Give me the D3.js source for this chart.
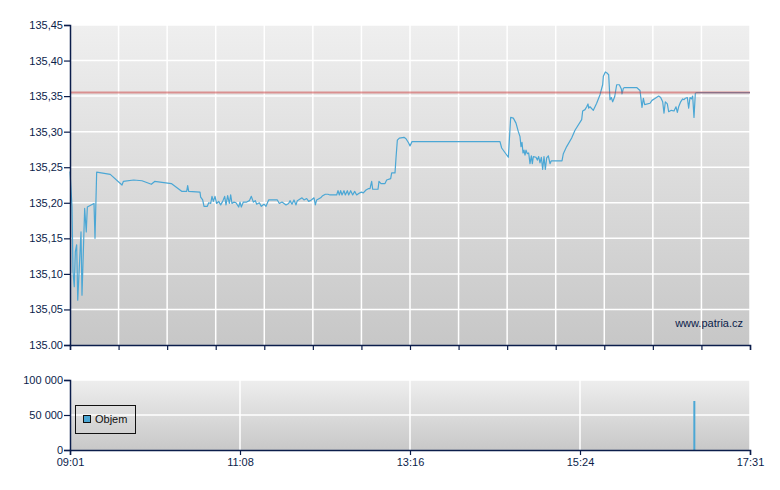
<!DOCTYPE html>
<html>
<head>
<meta charset="utf-8">
<script src="https://cdn.jsdelivr.net/npm/d3@7"></script>
<style>
  html, body { margin: 0; padding: 0; background: #ffffff; }
  svg { display: block; }
  text { font-family: "Liberation Sans", Arial, sans-serif; font-size: 11px; fill: #0b1d4b; }
</style>
</head>
<body>
<svg id="chart" width="780" height="490"></svg>
<script>
// ---- DATA (time = minutes since midnight) ----
const sessionStart = 541;   // 09:01
const sessionEnd = 1051;    // 17:31
const prevClose = 135.355;

const priceTime = [541,542.5,543.25,544.2,545,546,546.8,549.25,550,552,553.2,554,559,559.75,561,571.2,580,581,588.75,595,602,604.5,617,625,628.5,629.25,630,638.5,639,
  640.5,641.5,644,645,646.5,647.5,648.5,649.75,651,652.5,654,655.5,657,658,659.25,660.5,661.5,662.5,664,665.5,667.5,668.5,669.5,671,673.5,675.5,677,678.5,680,681,683,684.5,686.5,688,690,
  696.5,698,700,703,705,706,707.5,709,710.5,711.5,715,716.5,718.5,720,722,724,725,726,729,730.5,732.5,734.5,736,741,742,743,744,745,746.5,747.5,749,750,751.5,753,754.5,756,757.5,759.5,761,763,765,
  766,767.25,768,772,772.75,774.25,777.25,778.5,781.5,782.25,784.75,785.5,786.5,788,791.5,793,795,796,797.5,863.5,864.75,869.75,871.5,873.5,875.5,877.25,878.5,879.25,880,880.75,881.5,882.25,883,884,885,
  886,887,887.75,888.5,890.5,891.5,892.5,893.5,894.5,895.5,896.5,897.5,898.5,899.75,901,902,910,911,913.5,917.25,919.75,924.75,925.5,927.25,928.5,929.5,930,931,933.5,936,938.5,940.5,941,942.5,944,945,
  946,947,948,949.5,951,953,954.5,955,956,957,966,968.5,970,971,972,976,977.5,980,982.5,984,985.5,986.5,987.5,989,990,992,994,995.5,996.5,997.5,999,1000.5,1001.5,1002.5,1004,1005,1006,1007,1008,1009,1010,1011,1051];

const priceValue = [135.244,135.194,135.103,135.082,135.131,135.141,135.063,135.159,135.070,135.192,135.159,135.194,135.199,135.150,135.243,135.240,135.225,135.230,135.232,135.231,135.226,135.230,135.227,135.216,135.216,135.224,135.216,135.215,135.208,
  135.204,135.195,135.195,135.200,135.199,135.209,135.202,135.209,135.199,135.202,135.197,135.202,135.209,135.197,135.210,135.199,135.211,135.199,135.201,135.200,135.194,135.201,135.194,135.201,135.201,135.203,135.209,135.201,135.203,135.198,135.200,135.195,135.198,135.195,135.204,
  135.204,135.199,135.201,135.197,135.199,135.203,135.198,135.204,135.197,135.203,135.207,135.204,135.206,135.202,135.204,135.207,135.197,135.204,135.207,135.210,135.212,135.212,135.211,135.211,135.217,135.211,135.217,135.211,135.217,135.211,135.217,135.211,135.217,135.211,135.216,135.211,135.213,135.215,135.214,135.218,135.220,
  135.220,135.230,135.219,135.219,135.230,135.227,135.227,135.232,135.234,135.242,135.242,135.263,135.288,135.291,135.292,135.290,135.284,135.280,135.286,135.286,135.277,135.264,135.320,135.319,135.312,135.300,135.293,135.279,135.285,135.270,135.274,135.267,135.274,135.269,135.270,
  135.255,135.266,135.255,135.265,135.264,135.260,135.265,135.256,135.264,135.247,135.265,135.247,135.263,135.266,135.255,135.259,135.259,135.269,135.279,135.291,135.302,135.317,135.329,135.331,135.335,135.339,135.333,135.335,135.330,135.340,135.352,135.366,135.378,135.384,135.382,135.380,
  135.345,135.348,135.342,135.349,135.366,135.366,135.360,135.353,135.361,135.362,135.362,135.358,135.334,135.347,135.338,135.340,135.344,135.347,135.350,135.348,135.342,135.326,135.342,135.339,135.328,135.330,135.329,135.335,135.327,135.335,135.342,135.346,135.345,135.347,135.348,135.333,135.348,135.346,135.350,135.320,135.354,135.355,135.355];

const volumeTime = [1009.25];
const volumeValue = [70000];

const priceTicks = [135.00,135.05,135.10,135.15,135.20,135.25,135.30,135.35,135.40,135.45];
const priceTickLabels = ["135.00","135,05","135,10","135,15","135,20","135,25","135,30","135,35","135,40","135,45"];
const volumeTicks = [0,50000,100000];
const volumeTickLabels = ["0","50 000","100 000"];
const timeTickLabels = ["09:01","11:08","13:16","15:24","17:31"];
const legendLabel = "Objem";
const watermark = "www.patria.cz";

// ---- LAYOUT ----
const svg = d3.select("#chart");
const left = 70, right = 750;
const mainTop = 25, mainBottom = 345;
const volTop = 380, volBottom = 450;
const axisColor = "#0b1d4b";
const lineColor = "#4ba7d5";

const x = d3.scaleLinear().domain([sessionStart, sessionEnd]).range([left, right]);
const y = d3.scaleLinear().domain([135.00, 135.45]).range([mainBottom, mainTop]);
const yv = d3.scaleLinear().domain([0, 100000]).range([volBottom, volTop]);

const defs = svg.append("defs");
function grad(id, c1, c2) {
  const g = defs.append("linearGradient").attr("id", id).attr("x1", 0).attr("y1", 0).attr("x2", 0).attr("y2", 1);
  g.append("stop").attr("offset", "0%").attr("stop-color", c1);
  g.append("stop").attr("offset", "100%").attr("stop-color", c2);
}
grad("bgMain", "#efefef", "#c7c7c7");
grad("bgVol", "#eeeeee", "#c8c8c8");

// backgrounds
svg.append("rect").attr("x", left).attr("y", mainTop).attr("width", right - left).attr("height", mainBottom - mainTop).attr("fill", "url(#bgMain)");
svg.append("rect").attr("x", left).attr("y", volTop).attr("width", right - left).attr("height", volBottom - volTop).attr("fill", "url(#bgVol)");

// main grid
const mainTimeTicks = d3.range(15).map(i => sessionStart + i * (sessionEnd - sessionStart) / 14);
const gMainGrid = svg.append("g");
gMainGrid.selectAll("line.v").data(mainTimeTicks.slice(1)).join("line")
  .attr("x1", d => x(d)).attr("x2", d => x(d)).attr("y1", mainTop).attr("y2", mainBottom)
  .attr("stroke", "#ffffff").attr("stroke-width", 1.5);
gMainGrid.selectAll("line.h").data(priceTicks.slice(1)).join("line")
  .attr("x1", left).attr("x2", right).attr("y1", d => y(d)).attr("y2", d => y(d))
  .attr("stroke", "#ffffff").attr("stroke-width", 1.5);

// volume grid
const volTimeTicks = d3.range(5).map(i => sessionStart + i * (sessionEnd - sessionStart) / 4);
svg.append("g").selectAll("line").data(volTimeTicks.slice(1, 4)).join("line")
  .attr("x1", d => x(d)).attr("x2", d => x(d)).attr("y1", volTop).attr("y2", volBottom)
  .attr("stroke", "#ffffff").attr("stroke-width", 1.5);
svg.append("g").selectAll("line").data(volumeTicks.slice(1)).join("line")
  .attr("x1", left).attr("x2", right).attr("y1", d => yv(d)).attr("y2", d => yv(d))
  .attr("stroke", "#ffffff").attr("stroke-width", 1.5);
svg.append("line").attr("x1", right).attr("x2", right).attr("y1", volTop).attr("y2", volBottom).attr("stroke", "#ffffff").attr("stroke-width", 1.5);

// price line
const priceData = priceTime.map((t, i) => ({ t, v: priceValue[i] }));
const line = d3.line().x(d => x(d.t)).y(d => y(d.v));
svg.append("path").datum(priceData).attr("d", line)
  .attr("fill", "none").attr("stroke", lineColor).attr("stroke-width", 1.2).attr("stroke-linejoin", "round");

// previous close reference line (drawn over the price line, semi-transparent)
svg.append("line").attr("x1", left).attr("x2", right).attr("y1", y(prevClose)).attr("y2", y(prevClose))
  .attr("stroke", "#cc3a3a").attr("stroke-opacity", 0.5).attr("stroke-width", 2);

// volume bars
const volData = volumeTime.map((t, i) => ({ t, v: volumeValue[i] }));
svg.append("g").selectAll("rect").data(volData).join("rect")
  .attr("x", d => x(d.t) - 1).attr("width", 2)
  .attr("y", d => yv(d.v)).attr("height", d => yv(0) - yv(d.v))
  .attr("fill", lineColor);

// axes: main
const yAxis = d3.axisLeft(y).tickValues(priceTicks).tickSize(6).tickPadding(1)
  .tickFormat((d, i) => priceTickLabels[i]);
const gy = svg.append("g").attr("transform", `translate(${left},0)`).call(yAxis);
const xAxisMain = d3.axisBottom(x).tickValues(mainTimeTicks).tickSize(5).tickFormat("");
const gx = svg.append("g").attr("transform", `translate(0,${mainBottom})`).call(xAxisMain);

// axes: volume
const yvAxis = d3.axisLeft(yv).tickValues(volumeTicks).tickSize(6).tickPadding(1)
  .tickFormat((d, i) => volumeTickLabels[i]);
const gyv = svg.append("g").attr("transform", `translate(${left},0)`).call(yvAxis);
const xvAxis = d3.axisBottom(x).tickValues(volTimeTicks).tickSize(5).tickPadding(3)
  .tickFormat((d, i) => timeTickLabels[i]);
const gxv = svg.append("g").attr("transform", `translate(0,${volBottom})`).call(xvAxis);

[gy, gx, gyv, gxv].forEach(g => {
  g.select(".domain").attr("stroke", axisColor).attr("stroke-width", 1.5);
  g.selectAll(".tick line").attr("stroke", axisColor).attr("stroke-width", 1.2);
  g.selectAll(".tick text").attr("fill", axisColor)
    .style("font-family", '"Liberation Sans", Arial, sans-serif').style("font-size", "11px");
});

// legend
const lg = svg.append("g");
lg.append("rect").attr("x", 75.5).attr("y", 405.5).attr("width", 60).attr("height", 28)
  .attr("fill", "none").attr("stroke", "#111111").attr("stroke-width", 1);
lg.append("rect").attr("x", 83.5).attr("y", 415.5).attr("width", 7).attr("height", 7)
  .attr("fill", lineColor).attr("stroke", "#111111").attr("stroke-width", 1);
lg.append("text").attr("x", 95).attr("y", 423).text(legendLabel).style("fill", "#111111");

// watermark
svg.append("text").attr("x", 743).attr("y", 327).attr("text-anchor", "end").text(watermark).style("fill", "#0b1d4b");
</script>
</body>
</html>
